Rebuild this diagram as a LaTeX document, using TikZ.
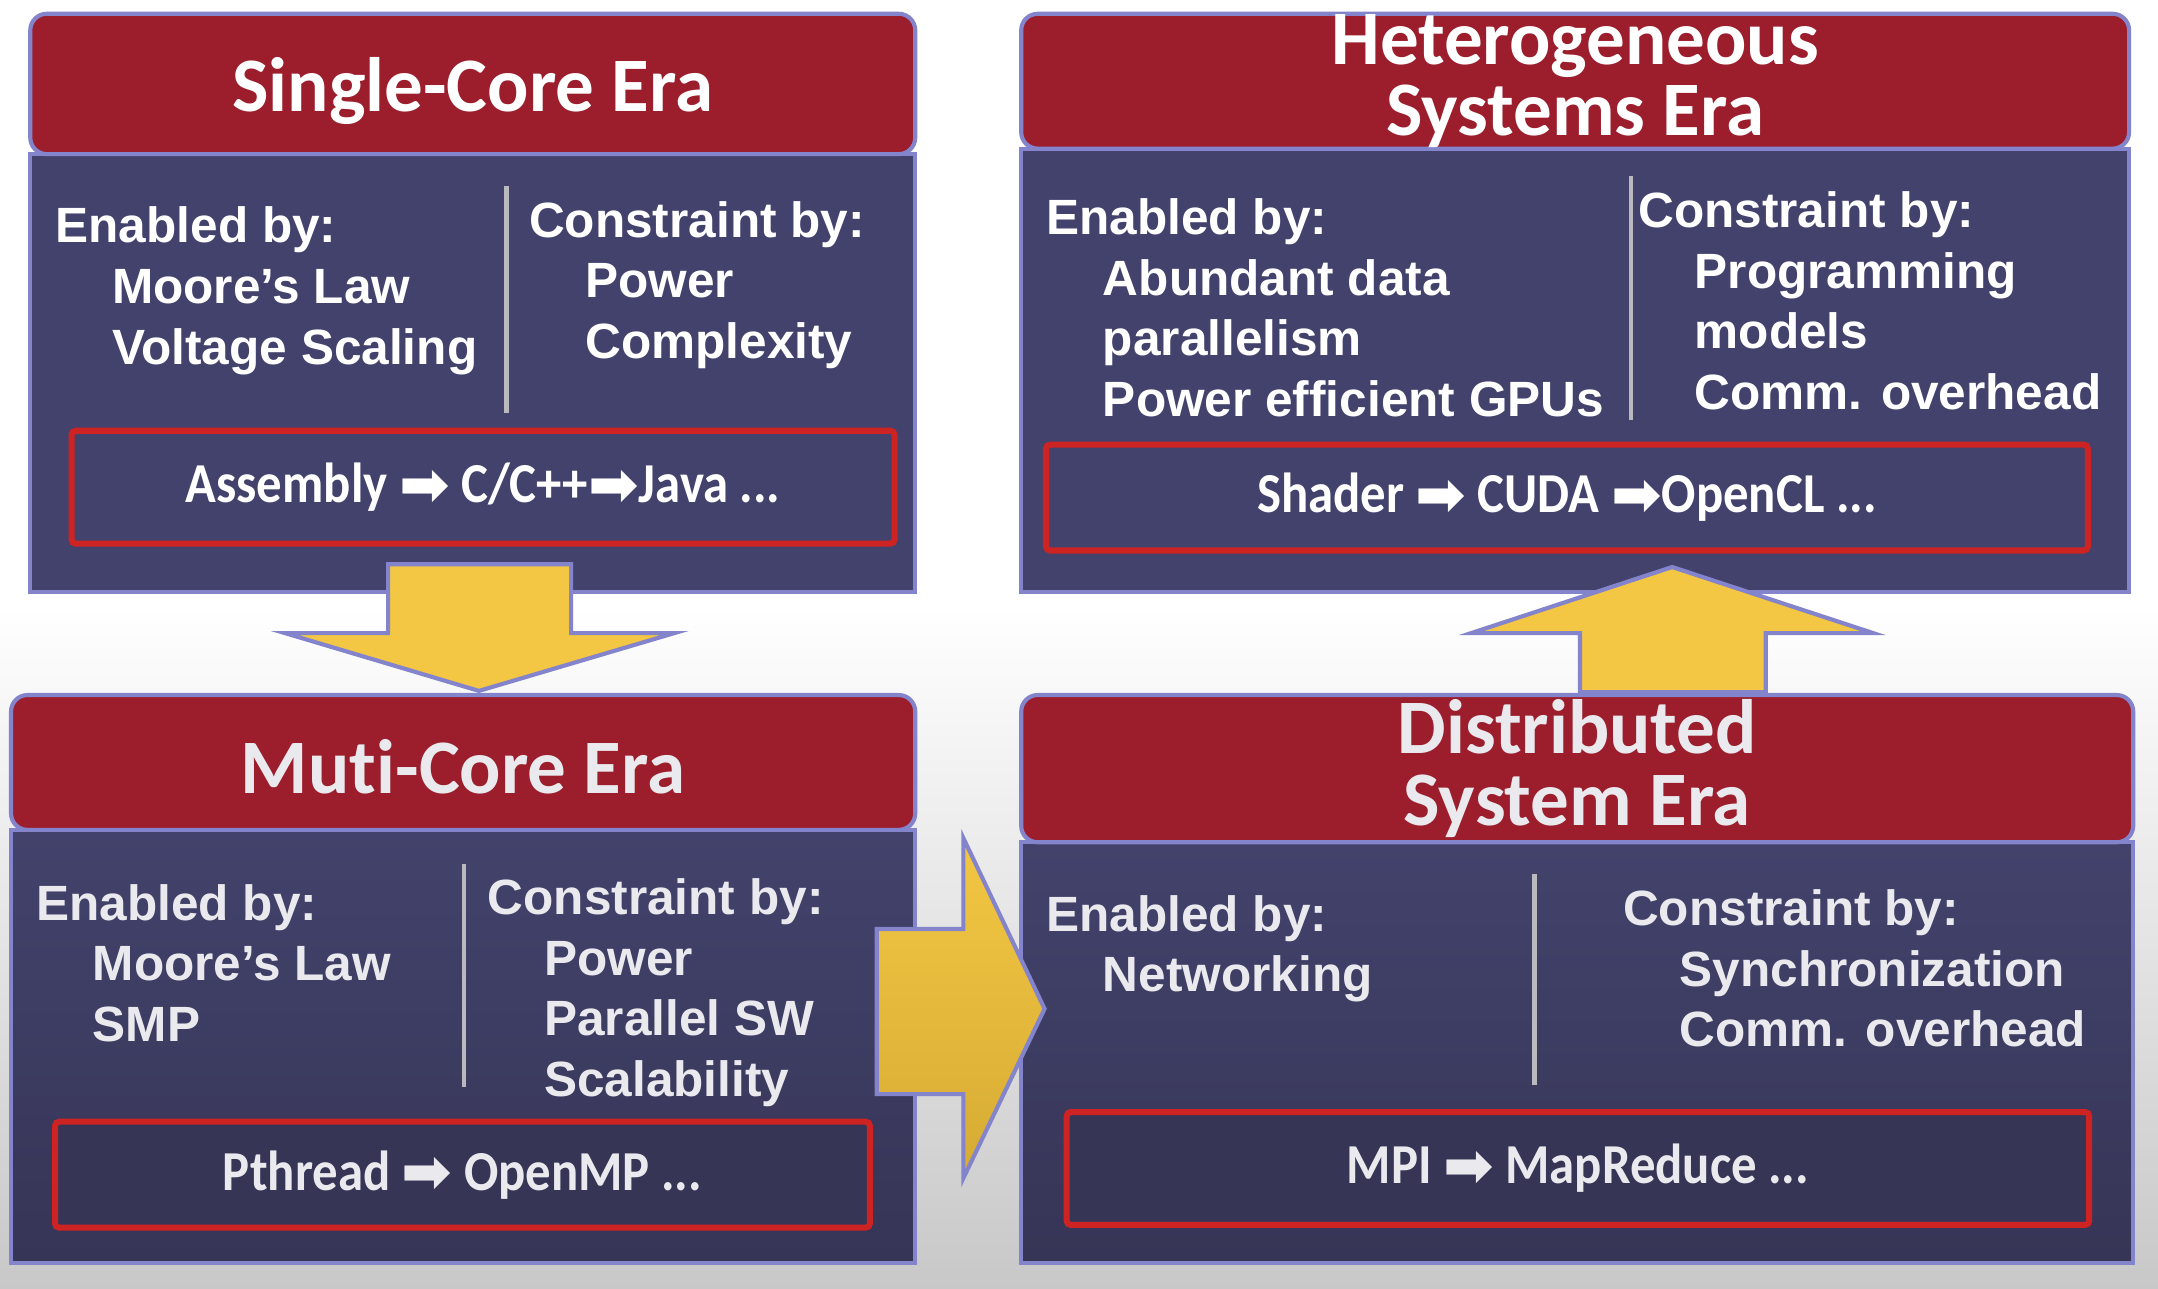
\documentclass[tikz,border=0pt]{standalone}
\usepackage{fontspec}
\setmainfont{Liberation Sans}
\newfontfamily\erafont[Ligatures=NoCommon]{Carlito}
\newfontfamily\toolfont[FakeStretch=0.9]{Carlito}
\newfontfamily\arrowfont{DejaVu Sans}
\usepackage{xcolor}
\usepackage{tikz}
\usetikzlibrary{positioning,calc,backgrounds}
\definecolor{erared}{RGB}{156,30,45}
\definecolor{eranavy}{RGB}{67,66,108}
\definecolor{eradeep}{RGB}{54,53,86}
\definecolor{eraedge}{RGB}{132,132,204}
\definecolor{eratool}{RGB}{205,35,35}
\definecolor{eragold}{RGB}{243,199,67}
\definecolor{eraochre}{RGB}{214,171,52}
\definecolor{eradivider}{RGB}{185,185,190}
\definecolor{erafog}{RGB}{200,200,200}
\definecolor{erapale}{RGB}{234,234,238}
\tikzset{
  erahead/.style={draw=eraedge,line width=1.5pt,fill=erared,rounded corners=6pt,text=white,
    font=\erafont\bfseries\fontsize{28}{26}\selectfont,align=center,inner sep=0pt},
  erabody/.style={draw=eraedge,line width=1.5pt,fill=eranavy,inner sep=0pt},
  eratools/.style={draw=eratool,line width=2.2pt,fill=eranavy,rounded corners=1.5pt,
    font=\toolfont\bfseries\fontsize{20.5}{25}\selectfont,inner sep=0pt},
  eralist/.style={anchor=north west,inner sep=0pt,align=left,
    font=\bfseries\fontsize{18}{22}\selectfont},
  eradiv/.style={draw=eradivider,line width=1.6pt},
  eraarrow/.style={draw=eraedge,line width=1.5pt,fill=eragold,line join=miter},
}
\newcommand{\nextstep}{{\arrowfont\fontsize{22}{24}\selectfont\raisebox{-1pt}{➡}}}
\newcommand{\eraindent}{\hspace*{20.5pt}}
\newcommand{\eradrop}[2]{\raisebox{-#1}[\height][\depth]{#2}}

\begin{document}
\begin{tikzpicture}[x=0.5pt,y=-0.5pt]
\useasboundingbox (0,0) rectangle (1568,936);
\fill[white] (0,0) rectangle (1568,936);
\shade[top color=white,bottom color=erafog] (0,440) rectangle (1568,936);

% single-core era
\node[erabody,minimum width=321.5pt,minimum height=159pt] (singlebody) at (343.5,271) {};
\node[erahead,minimum width=321.5pt,minimum height=51pt,text=white] (singlehead) at (343.5,61) {\eradrop{2.5pt}{Single-Core Era}};
\node[eratools,minimum width=299pt,minimum height=41pt,text=white] (singletools) at (351,354) {Assembly \nextstep{} C/C++\nextstep Java ...};
\node[eralist,text=white] (singleen) at (40,150) {Enabled by:\\\eraindent Moore’s Law\\\eraindent Voltage Scaling};
\node[eralist,text=white] (singlecon) at (384,146) {Constraint by:\\\eraindent Power\\\eraindent Complexity};
\draw[eradiv] (368,135) -- (368,300);

% heterogeneous systems era
\node[erabody,minimum width=402.5pt,minimum height=161pt] (heterobody) at (1144.5,269) {};
\node[erahead,minimum width=402.5pt,minimum height=49pt,text=white] (heterohead) at (1144.5,59) {Heterogeneous\\Systems Era};
\node[eratools,minimum width=378.5pt,minimum height=38.5pt,text=white] (heterotools) at (1138.5,361.5) {Shader \nextstep{} CUDA \nextstep OpenCL ...};
\node[eralist,text=white] (heteroen) at (760,144) {Enabled by:\\\eraindent Abundant data\\\eraindent parallelism\\\eraindent Power efficient GPUs};
\node[eralist,text=white] (heterocon) at (1190,139) {Constraint by:\\\eraindent Programming\\\eraindent models\\\eraindent Comm. overhead};
\draw[eradiv] (1185,128) -- (1185,305);

% multi-core era
\node[erabody,minimum width=328.5pt,minimum height=157.5pt,top color=eranavy,bottom color=eradeep] (multibody) at (336.5,760.5) {};
\node[erahead,minimum width=328.5pt,minimum height=49pt,text=erapale] (multihead) at (336.5,554) {\eradrop{1.5pt}{Muti-Core Era}};
\node[eratools,minimum width=296pt,minimum height=38.5pt,fill=eradeep,text=erapale] (multitools) at (336,853.5) {Pthread \nextstep{} OpenMP ...};
\node[eralist,text=erapale] (multien) at (26,642) {Enabled by:\\\eraindent Moore’s Law\\\eraindent SMP};
\node[eralist,text=erapale] (multicon) at (354,638) {Constraint by:\\\eraindent Power\\\eraindent Parallel SW\\\eraindent Scalability};
\draw[eradiv] (337,628) -- (337,790);

% distributed system era
\node[erabody,minimum width=404pt,minimum height=153pt,top color=eranavy,bottom color=eradeep] (distbody) at (1146,765) {};
\node[erahead,minimum width=404pt,minimum height=53.5pt,text=erapale] (disthead) at (1146,558.5) {Distributed\\System Era};
\node[eratools,minimum width=371.5pt,minimum height=41pt,fill=eradeep,text=erapale] (disttools) at (1146.5,849) {MPI \nextstep{} MapReduce ...};
\node[eralist,text=erapale] (disten) at (760,650) {Enabled by:\\\eraindent Networking};
\node[eralist,text=erapale] (distcon) at (1179,646) {Constraint by:\\\eraindent Synchronization\\\eraindent Comm. overhead};
\draw[eradiv] (1115,635) -- (1115,788);

% era transitions
\draw[eraarrow] (282,410) -- (415,410) -- (415,460) -- (490,460) -- (348,502) -- (207,460) -- (282,460) -- cycle;
\draw[eraarrow,top color=eragold,bottom color=eraochre] (637,675) -- (700,675) -- (700,609) -- (759,733) -- (700,856) -- (700,795) -- (637,795) -- cycle;
\draw[eraarrow] (1148,503) -- (1148,460) -- (1069,460) -- (1215,412) -- (1361,460) -- (1283,460) -- (1283,503) -- cycle;
\end{tikzpicture}
\end{document}
